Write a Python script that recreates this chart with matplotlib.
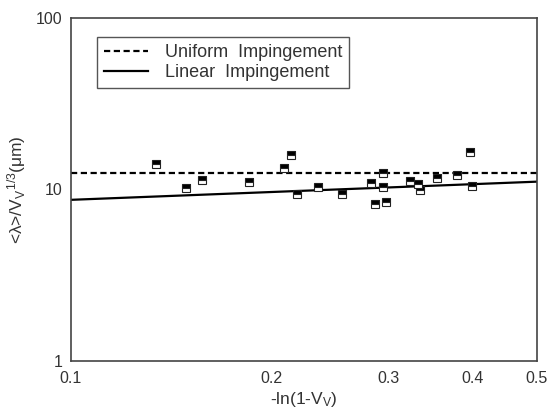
import numpy as np
import matplotlib
matplotlib.use("Agg")
import matplotlib.pyplot as plt
from matplotlib.ticker import FixedLocator, FixedFormatter, NullLocator

# measured points: -ln(1-Vv) vs <lambda>/Vv^(1/3) in um
x_data = [0.134, 0.149, 0.157, 0.185, 0.209, 0.214, 0.218, 0.235, 0.255,
          0.282, 0.286, 0.294, 0.294, 0.297, 0.323, 0.332, 0.334, 0.354,
          0.379, 0.397, 0.400]
y_data = [14.0, 10.2, 11.3, 11.0, 13.4, 15.9, 9.4, 10.4, 9.4,
          10.9, 8.2, 12.4, 10.3, 8.5, 11.2, 10.7, 9.9, 11.6,
          12.2, 16.5, 10.5]

# model lines
uniform_x = [0.1, 0.5]
uniform_y = [12.45, 12.45]
linear_x = [0.1, 0.5]
linear_y = [8.7, 11.1]

x_ticks = [0.1, 0.2, 0.3, 0.4, 0.5]
x_ticklabels = ["0.1", "0.2", "0.3", "0.4", "0.5"]
y_ticks = [1, 10, 100]
y_ticklabels = ["1", "10", "100"]

plt.rcParams["font.family"] = ["Liberation Sans", "DejaVu Sans"]
plt.rcParams["mathtext.default"] = "regular"
txt = "#333333"

fig = plt.figure(figsize=(5.5, 4.15), dpi=100)
ax = fig.add_axes([0.129, 0.130, 0.847, 0.827])

ax.plot(uniform_x, uniform_y, color="black", lw=1.6, linestyle=(0, (2.8, 1.6)),
        label="Uniform  Impingement")
ax.plot(linear_x, linear_y, color="black", lw=1.6, label="Linear  Impingement")
ax.plot(x_data, y_data, linestyle="none", marker="s", markersize=5.8,
        fillstyle="top", markerfacecolor="black", markerfacecoloralt="white",
        markeredgecolor="#222222", markeredgewidth=0.8)

ax.set_xscale("log")
ax.set_yscale("log")
ax.set_xlim(0.1, 0.5)
ax.set_ylim(1, 100)

ax.xaxis.set_major_locator(FixedLocator(x_ticks))
ax.xaxis.set_major_formatter(FixedFormatter(x_ticklabels))
ax.xaxis.set_minor_locator(NullLocator())
ax.yaxis.set_major_locator(FixedLocator(y_ticks))
ax.yaxis.set_major_formatter(FixedFormatter(y_ticklabels))
ax.yaxis.set_minor_locator(NullLocator())
ax.tick_params(length=0, labelsize=11.5, colors=txt)
ax.tick_params(axis="x", pad=7)
ax.tick_params(axis="y", pad=6)

for s in ax.spines.values():
    s.set_color("#444444")
    s.set_linewidth(1.2)

ax.set_xlabel(r"-ln(1-V$_V$)", fontsize=12.5, color=txt, labelpad=3)
ax.set_ylabel(r"<λ>/V$_V$$^{1/3}$(μm)", fontsize=12.5, color=txt, labelpad=6)

leg = ax.legend(loc="upper left", bbox_to_anchor=(0.056, 0.945), borderaxespad=0,
                fontsize=13, handlelength=2.4, handletextpad=0.95,
                labelspacing=0.18, borderpad=0.4, fancybox=False,
                edgecolor="#555555", framealpha=1)
leg.get_frame().set_linewidth(1.0)
for t in leg.get_texts():
    t.set_color(txt)

fig.savefig("out.png", dpi=100)
